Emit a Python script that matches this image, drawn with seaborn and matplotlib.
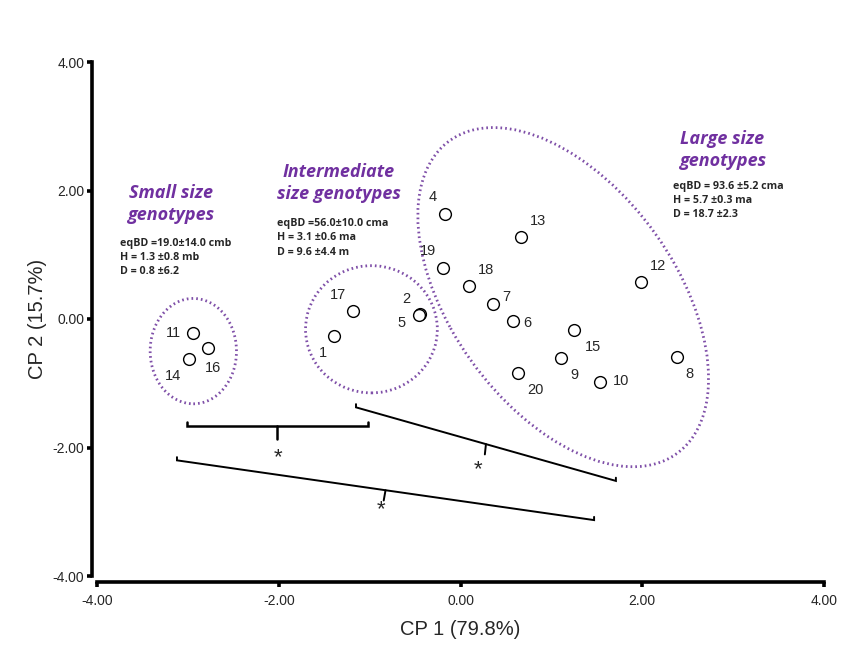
import numpy as np
import pandas as pd
import matplotlib
matplotlib.use("Agg")
import matplotlib.pyplot as plt
import seaborn as sns
from matplotlib.patches import Ellipse

# genotype scores on the first two principal components
genotypes = ["1", "2", "4", "5", "6", "7", "8", "9", "10", "11", "12",
             "13", "14", "15", "16", "17", "18", "19", "20"]
cp1 = [-1.39, -0.45, -0.17, -0.46, 0.58, 0.36, 2.38, 1.11, 1.53, -2.94, 1.99,
       0.67, -2.99, 1.25, -2.78, -1.18, 0.09, -0.19, 0.63]
cp2 = [-0.27, 0.08, 1.63, 0.06, -0.03, 0.23, -0.59, -0.61, -0.98, -0.22, 0.58,
       1.27, -0.63, -0.17, -0.45, 0.13, 0.52, 0.80, -0.84]
# label centre offsets from the point, pixels (dx, dy up)
label_offsets = {
    "1": (-11, -17), "2": (-13, 15), "4": (-12, 17), "5": (-17, -8), "6": (14, -2),
    "7": (13, 7), "8": (13, -17), "9": (13, -17), "10": (22, 1), "11": (-20, 0),
    "12": (17, 16), "13": (17, 16), "14": (-16, -17), "15": (19, -17), "16": (5, -20),
    "17": (-15, 16), "18": (17, 16), "19": (-15, 17), "20": (18, -17),
}

group_titles = ["Small size\ngenotypes", "Intermediate\nsize genotypes", "Large size\ngenotypes"]
group_stats = [
    "eqBD =19.0\u00b114.0 cmb\nH = 1.3 \u00b10.8 mb\nD = 0.8 \u00b16.2",
    "eqBD =56.0\u00b110.0 cma\nH = 3.1 \u00b10.6 ma\nD = 9.6 \u00b14.4 m",
    "eqBD = 93.6 \u00b15.2 cma\nH = 5.7 \u00b10.3 ma\nD = 18.7 \u00b12.3",
]
title_xy = [(-3.19, 1.79), (-1.34, 2.12), (2.88, 2.63)]
stats_xy = [(-3.75, 1.26), (-2.02, 1.57), (2.34, 2.15)]

# ellipses: center, width, height, angle (data units)
ell_center = [(-2.94, -0.50), (-0.98, -0.16), (1.13, 0.34)]
ell_width = [0.95, 1.45, 5.57]
ell_height = [1.64, 1.98, 2.66]
ell_angle = [0, 0, -68.7]

# significance brackets: start, end, centre tick, asterisk position
br_start = [(-3.01, -1.66), (-1.15, -1.375), (-3.12, -2.20)]
br_end = [(-1.02, -1.66), (1.71, -2.52), (1.47, -3.13)]
br_tick_dx = [0.0, -0.012, -0.02]
br_tick_dy = [0.20, 0.16, 0.16]
br_width = [1.8, 1.4, 1.4]
ast_xy = [(-2.01, -2.16), (0.19, -2.34), (-0.87, -2.97)]

purple = "#7030A0"
df = pd.DataFrame({"CP1": cp1, "CP2": cp2, "genotype": genotypes})

sns.set_style("white")
plt.rcParams["font.family"] = ["Liberation Sans", "DejaVu Sans"]

fig = plt.figure(figsize=(8.52, 6.56), dpi=100)
ax = fig.add_axes([97 / 852, 80 / 656, 727 / 852, 514 / 656])

for c, w, h, a in zip(ell_center, ell_width, ell_height, ell_angle):
    ax.add_patch(Ellipse(c, w, h, angle=a, fill=False, edgecolor="#7F4FA8",
                         lw=2.0, linestyle=(0, (0.6, 1.1)), zorder=1))

sns.scatterplot(data=df, x="CP1", y="CP2", ax=ax, s=72, facecolor="white",
                edgecolor="black", linewidth=1.0, zorder=3, legend=False)

for g, x, y in zip(genotypes, cp1, cp2):
    dx, dy = label_offsets[g]
    ax.annotate(g, (x, y), xytext=(dx * 0.72, dy * 0.72), textcoords="offset points",
                fontsize=10.5, va="center", ha="center")

for t, (x, y) in zip(group_titles, title_xy):
    ax.text(x, y, t, ha="center", va="center", color=purple, fontsize=13,
            fontweight="bold", fontstyle="italic", family=["Open Sans", "DejaVu Sans"],
            linespacing=1.3)
for t, (x, y) in zip(group_stats, stats_xy):
    ax.text(x, y, t, ha="left", va="top", fontsize=7.7, fontweight="bold",
            family=["Open Sans", "DejaVu Sans"], linespacing=1.4)

# brackets with end ticks up and a centre tick pointing to the asterisk
for i in range(len(br_start)):
    (x0, y0), (x1, y1) = br_start[i], br_end[i]
    lw = br_width[i]
    ax.plot([x0, x0, x1, x1], [y0 + 0.05, y0, y1, y1 + 0.05], color="black", lw=lw,
            solid_joinstyle="miter")
    xm, ym = (x0 + x1) / 2, (y0 + y1) / 2
    ax.plot([xm, xm + br_tick_dx[i]], [ym, ym - br_tick_dy[i]], color="black", lw=lw)
    ax.text(ast_xy[i][0], ast_xy[i][1], "*", ha="center", va="center", fontsize=16)

ax.set_xlim(-4, 4)
ax.set_ylim(-4, 4)
ticks = [-4, -2, 0, 2, 4]
ax.set_xticks(ticks)
ax.set_yticks(ticks)
ax.set_xticklabels([f"{t:.2f}" for t in ticks], fontsize=11)
ax.set_yticklabels([f"{t:.2f}" for t in ticks], fontsize=11)
ax.set_xlabel("CP 1 (79.8%)", fontsize=14.5, labelpad=9)
ax.set_ylabel("CP 2 (15.7%)", fontsize=14.5, labelpad=4)

sns.despine(ax=ax)
ax.spines["left"].set_position(("outward", 3.6))
ax.spines["bottom"].set_position(("outward", 4.3))
for side in ["left", "bottom"]:
    ax.spines[side].set_linewidth(2.6)
    ax.spines[side].set_color("black")
ax.tick_params(axis="both", which="both", direction="out", length=3.5, width=2.6,
               color="black", bottom=True, left=True)
ax.tick_params(axis="x", pad=5)
ax.tick_params(axis="y", pad=2)

fig.savefig("out.png", dpi=100)
